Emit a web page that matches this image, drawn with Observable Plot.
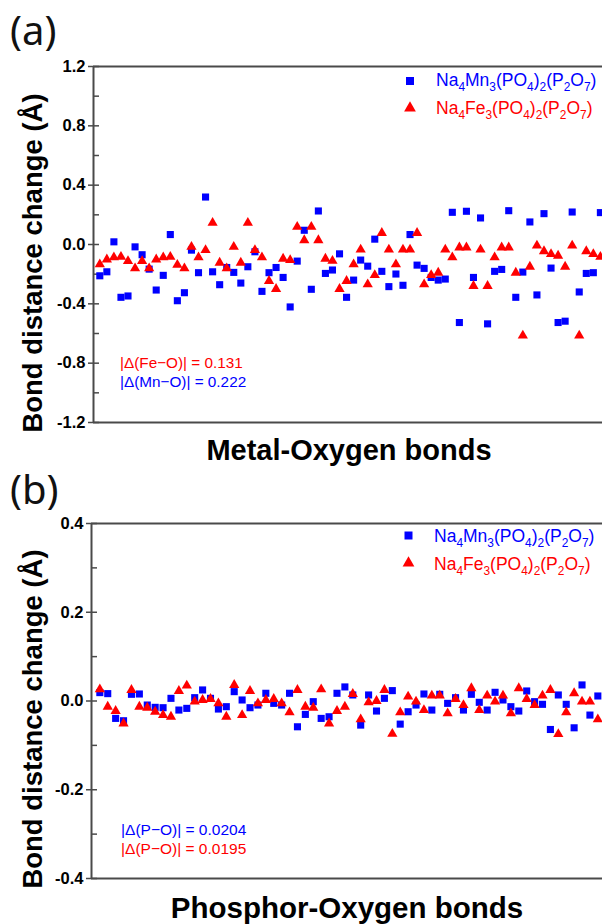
<!DOCTYPE html>
<html><head><meta charset="utf-8">
<script src="https://cdn.jsdelivr.net/npm/d3@7"></script>
<script src="https://cdn.jsdelivr.net/npm/@observablehq/plot@0.6"></script>
<style>
html,body{margin:0;padding:0;background:#fff;}
#wrap{position:relative;width:602px;height:924px;overflow:hidden;}
#wrap svg{position:absolute;left:0;}
</style></head><body><div id="wrap"></div>
<script>
// ---- data ----
const seriesNames = ["Na4Mn3(PO4)2(P2O7)", "Na4Fe3(PO4)2(P2O7)"];
const panelLetters = ["(a)", "(b)"];
const xTitles = ["Metal-Oxygen bonds", "Phosphor-Oxygen bonds"];
const yTitle = "Bond distance change (Å)";
const notesA = ["|Δ(Fe−O)| = 0.131", "|Δ(Mn−O)| = 0.222"];
const notesB = ["|Δ(P−O)| = 0.0204", "|Δ(P−O)| = 0.0195"];

const mnMetal = [-0.211,-0.184,0.018,-0.356,-0.347,-0.016,-0.069,-0.166,-0.307,-0.208,0.067,-0.379,-0.325,-0.038,-0.190,0.320,-0.184,-0.271,-0.155,-0.188,-0.260,-0.150,-0.049,-0.316,-0.190,-0.155,-0.222,-0.421,-0.112,0.096,-0.302,0.226,-0.195,-0.172,-0.063,-0.356,-0.240,-0.105,-0.146,0.036,-0.181,-0.284,-0.199,-0.275,0.067,-0.139,-0.161,-0.222,-0.240,-0.233,0.217,-0.526,0.224,-0.222,0.179,-0.535,-0.181,-0.168,0.228,-0.356,-0.186,0.152,-0.340,0.208,-0.159,-0.526,-0.517,0.219,-0.320,-0.195,-0.190,0.215];
const feMetal = [-0.134,-0.101,-0.087,-0.083,-0.112,-0.161,-0.112,-0.161,-0.101,-0.087,-0.083,-0.137,-0.161,-0.016,-0.087,-0.038,0.146,-0.123,-0.161,-0.016,-0.123,0.146,-0.038,-0.087,-0.246,-0.300,-0.096,-0.105,0.119,0.029,0.119,0.029,-0.096,-0.110,-0.300,-0.246,-0.134,-0.034,-0.269,-0.206,0.078,-0.034,-0.134,-0.034,-0.034,0.078,-0.269,-0.206,-0.190,-0.034,-0.087,-0.020,-0.020,-0.280,-0.034,-0.280,-0.087,-0.020,-0.020,-0.190,-0.614,-0.150,-0.007,-0.045,-0.065,-0.076,-0.150,-0.007,-0.614,-0.045,-0.065,-0.083];
const mnPhos = [0.0189,0.0166,-0.0392,-0.0445,0.0151,0.0158,-0.0091,-0.0143,-0.0151,0.0060,-0.0204,-0.0166,0.0075,0.0249,0.0060,-0.0181,-0.0128,0.0211,0.0023,-0.0151,-0.0091,0.0174,-0.0053,-0.0091,0.0174,-0.0581,-0.0302,-0.0015,-0.0392,-0.0355,0.0174,0.0317,0.0136,-0.0543,0.0136,-0.0226,0.0060,0.0234,-0.0521,-0.0242,-0.0091,0.0158,-0.0204,0.0151,-0.0053,0.0075,-0.0204,0.0151,-0.0030,-0.0204,0.0196,0.0023,-0.0128,-0.0226,0.0226,-0.0015,-0.0075,-0.0642,0.0136,-0.0075,-0.0604,0.0362,-0.0317,0.0113];
const fePhos = [0.0264,-0.0128,-0.0226,-0.0506,0.0249,-0.0128,-0.0151,-0.0242,-0.0317,-0.0355,0.0226,0.0347,-0.0015,0.0023,0.0045,-0.0053,-0.0355,0.0362,-0.0317,0.0226,-0.0053,0.0023,0.0045,-0.0053,-0.0257,0.0249,-0.0128,-0.0151,0.0264,-0.0506,-0.0226,-0.0128,0.0158,-0.0415,-0.0030,0.0000,0.0249,-0.0740,-0.0257,0.0098,-0.0015,-0.0204,0.0121,0.0121,-0.0279,0.0045,-0.0091,0.0287,-0.0204,0.0121,-0.0015,0.0121,-0.0279,0.0287,0.0045,-0.0091,0.0121,0.0249,-0.0747,-0.0257,0.0174,-0.0015,-0.0015,-0.0415];

const yMajorA = [-1.2,-0.8,-0.4,0,0.4,0.8,1.2];
const yMinorA = [-1.0,-0.6,-0.2,0.2,0.6,1.0];
const yMajorB = [-0.4,-0.2,0,0.2,0.4];
const yMinorB = [-0.3,-0.1,0.1,0.3];

const BLUE = "#0000ff", RED = "#ff0000", AXIS = "#4a4a4a";
const FONT = "'Liberation Sans', Arial, sans-serif";
const W = 602, H = 462;

function panel(mn, fe, xDomain, major, minor, mTop, mBottom, mLeft) {
  const yDomain = [major[0], major[major.length - 1]];
  const mnRows = mn.map((v, i) => ({i, v, s: seriesNames[0]}));
  const feRows = fe.map((v, i) => ({i, v, s: seriesNames[1]}));
  const innerW = W - mLeft;
  const svg = Plot.plot({
    width: W, height: H,
    marginTop: mTop, marginBottom: mBottom, marginLeft: mLeft, marginRight: 0,
    style: {fontFamily: FONT, background: "transparent"},
    x: {domain: xDomain, axis: null},
    y: {domain: yDomain, axis: null, label: null},
    marks: [
      Plot.ruleY(yDomain, {stroke: AXIS, strokeWidth: 2}),
      Plot.ruleX([xDomain[0]], {stroke: AXIS, strokeWidth: 2}),
      Plot.axisY(major, {anchor: "left", tickSize: 5, tickPadding: 3, label: null,
        tickFormat: d => d.toFixed(1), stroke: AXIS, strokeWidth: 1.5}),
      Plot.tickY([...major, ...minor], {y: d => d, insetRight: innerW - 6, stroke: AXIS, strokeWidth: 1.5}),
      Plot.dot(mnRows, {x: "i", y: "v", symbol: "square", r: 4, fill: BLUE, stroke: null}),
      Plot.dot(feRows, {x: "i", y: "v", symbol: "triangle", r: 3.8, fill: RED, stroke: null})
    ]
  });
  // tick label styling: bold, larger
  d3.select(svg).selectAll("text")
    .style("font-size", "16.5px").style("font-weight", "bold")
    .style("font-family", FONT).style("fill", "#000");
  return svg;
}

const wrap = document.getElementById("wrap");
const svgA = panel(mnMetal, feMetal, [-0.894, 71.3], yMajorA, yMinorA, 66, 40, 93);
svgA.style.top = "0px";
wrap.appendChild(svgA);
const svgB = panel(mnPhos, fePhos, [-1.054, 63.59], yMajorB, yMinorB, 61, 46, 91);
svgB.style.top = H + "px";
wrap.appendChild(svgB);

// ---- overlay text: titles, legends, notes ----
const ov = d3.select(wrap).append("svg").attr("width", W).attr("height", 924)
  .style("top", "0px").style("pointer-events", "none").style("font-family", FONT);

function formula(g, label, x, y, color, size) {
  const t = g.append("text").attr("x", x).attr("y", y).attr("fill", color).attr("font-size", size);
  let shifted = false;
  label.split(/(\d+)/).filter(s => s.length).forEach(part => {
    if (/^\d+$/.test(part)) {
      t.append("tspan").attr("dy", shifted ? 0 : 5).attr("font-size", size * 0.68).text(part);
      shifted = true;
    } else {
      t.append("tspan").attr("dy", shifted ? -5 : 0).text(part);
      shifted = false;
    }
  });
}

// panel letters
const LETTER_FONT = "'Noto Sans', 'Open Sans', sans-serif";
ov.append("text").attr("x", 10).attr("y", 45).attr("font-family", LETTER_FONT)
  .attr("font-size", 40).attr("fill", "#111").text(panelLetters[0]);
ov.append("text").attr("x", 10).attr("y", 504).attr("font-family", LETTER_FONT)
  .attr("font-size", 40).attr("fill", "#111").text(panelLetters[1]);

// y titles
[[42, 263], [42, 719]].forEach(([x, y]) => {
  ov.append("text").attr("transform", `translate(${x},${y}) rotate(-90)`)
    .attr("text-anchor", "middle").attr("font-weight", "bold").attr("font-size", 27.5)
    .attr("fill", "#000").text(yTitle);
});

// x titles
ov.append("text").attr("x", 349).attr("y", 460).attr("text-anchor", "middle")
  .attr("font-weight", "bold").attr("font-size", 29).attr("fill", "#000").text(xTitles[0]);
ov.append("text").attr("x", 347).attr("y", 918).attr("text-anchor", "middle")
  .attr("font-weight", "bold").attr("font-size", 29.5).attr("fill", "#000").text(xTitles[1]);

// legends
function legend(cx, cySq, cyTri, tx, by1, by2) {
  ov.append("path").attr("transform", `translate(${cx},${cySq})`)
    .attr("d", d3.symbol(d3.symbolSquare, 64)()).attr("fill", BLUE);
  ov.append("path").attr("transform", `translate(${cx},${cyTri})`)
    .attr("d", d3.symbol(d3.symbolTriangle, 60)()).attr("fill", RED);
  formula(ov, seriesNames[0], tx, by1, BLUE, 17.5);
  formula(ov, seriesNames[1], tx, by2, RED, 17.5);
}
legend(410, 81, 108, 436, 86, 114);
legend(408.5, 535.5, 563, 434, 542, 570);

// notes
ov.append("text").attr("x", 120).attr("y", 368).attr("font-size", 15.3).attr("fill", RED).text(notesA[0]);
ov.append("text").attr("x", 120).attr("y", 387).attr("font-size", 15.3).attr("fill", BLUE).text(notesA[1]);
ov.append("text").attr("x", 121).attr("y", 835).attr("font-size", 15.5).attr("fill", BLUE).text(notesB[0]);
ov.append("text").attr("x", 121).attr("y", 854).attr("font-size", 15.5).attr("fill", RED).text(notesB[1]);
</script></body></html>
